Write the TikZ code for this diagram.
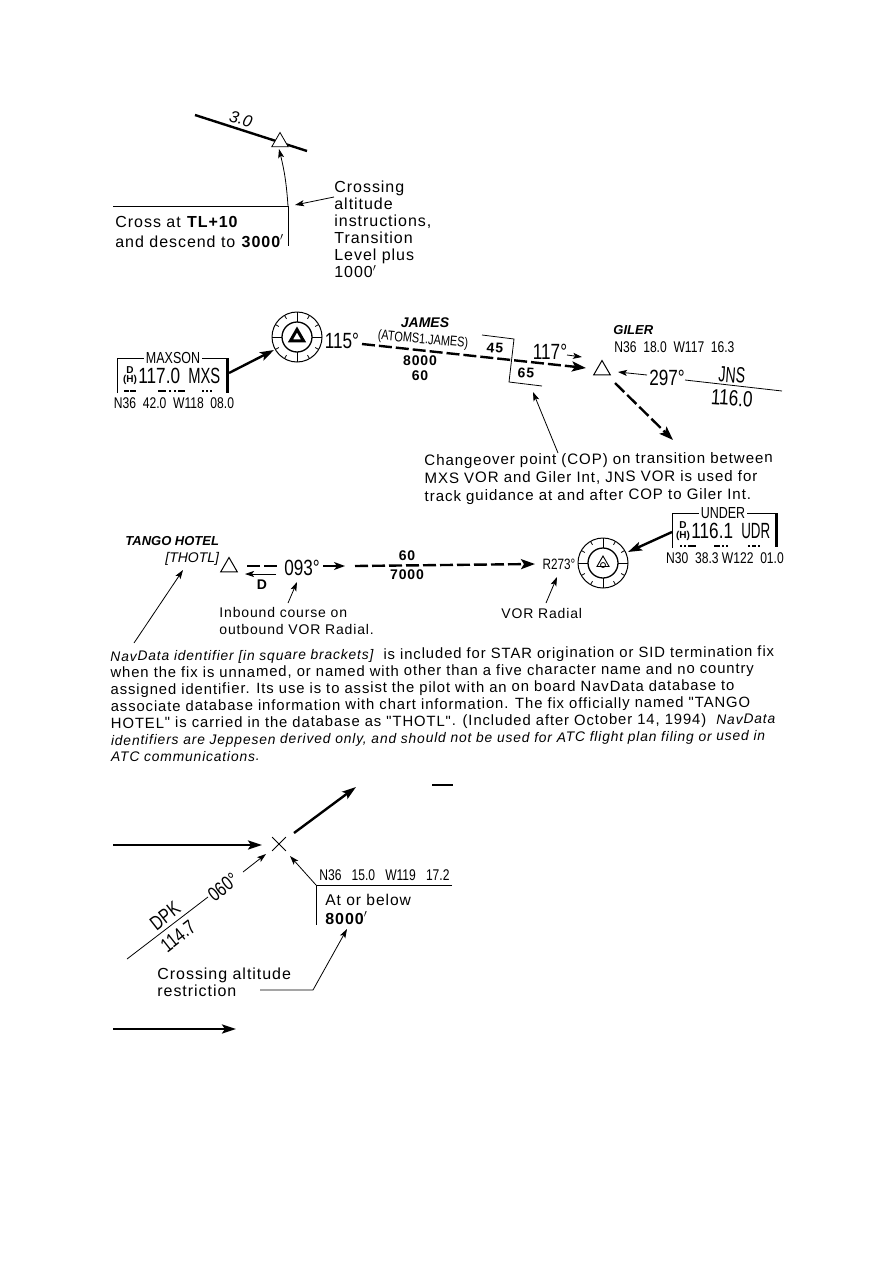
\documentclass[tikz,border=0pt]{standalone}
\usepackage{fontspec}
\setmainfont{Liberation Sans}
\newfontfamily\notefont[LetterSpace=6]{Liberation Sans}
\newfontfamily\narrowfont[FakeStretch=0.78]{Liberation Sans}
\newcommand{\navital}[1]{{\fontsize{13.85}{16.8}\selectfont\itshape #1}}
\usetikzlibrary{positioning,calc,arrows.meta,shapes.geometric,shapes.misc}
\tikzset{>={Stealth[length=9pt,width=6pt,inset=2pt]}}
\tikzstyle{note} = [inner sep=0pt, anchor=west, align=left, font=\notefont\fontsize{14}{17}\selectfont]
\tikzstyle{bignote} = [note, font=\notefont\fontsize{16}{17}\selectfont]
\tikzstyle{chart} = [inner sep=0pt, font=\narrowfont\fontsize{22}{24}\selectfont]
\tikzstyle{slant} = [inner sep=0pt, rotate=38, font=\narrowfont\fontsize{20}{22}\selectfont]
\tikzstyle{coords} = [inner sep=0pt, font=\narrowfont\fontsize{15.5}{17}\selectfont]
\tikzstyle{fix} = [inner sep=0pt, font=\bfseries\itshape\fontsize{13}{16}\selectfont]
\tikzstyle{alt} = [inner sep=0pt, font=\notefont\bfseries\fontsize{14}{15}\selectfont]
\tikzstyle{tiny} = [inner sep=0pt, font=\bfseries\fontsize{10}{10}\selectfont]
\tikzstyle{wpt} = [regular polygon, regular polygon sides=3, draw, fill=white, inner sep=0pt, minimum size=19pt]
\tikzstyle{track} = [line width=2.4pt, dash pattern=on 13pt off 4pt, -{Stealth[length=14pt,width=10pt,inset=3pt]}]
\tikzstyle{heavy} = [line width=2.4pt, -{Stealth[length=14pt,width=9pt,inset=3pt]}]
\newcommand{\vorrose}[2]{%
  \draw[line width=1pt] (#1) circle (25);
  \draw[line width=1.3pt] (#1) circle (15);
  \foreach \a in {0,90,180,270} \draw[line width=1pt] ($(#1)+(\a:15)$) -- ($(#1)+(\a:25)$);
  \foreach \a in {30,60,120,150,210,240,300,330} \draw ($(#1)+(\a:21)$) -- ($(#1)+(\a:25)$);
  \node[#2] at (#1) {};
}
\begin{document}
\begin{tikzpicture}[x=1pt,y=-1pt,line width=0.8pt]
  \useasboundingbox (0,0) rectangle (893,1263);
  % crossing altitude
  \coordinate (tlA) at (195,115); \coordinate (tlB) at (307,151);
  \coordinate (cxA) at (113,206); \coordinate (cxB) at (288,206); \coordinate (cxC) at (288,246);
  \draw[line width=2.4pt] (tlA) -- (tlB);
  \node [wpt] (w1) at (280,142) {};
  \node [inner sep=0pt,font=\itshape\fontsize{16.5}{17}\selectfont,rotate=-15] (glide) at (241,119) {3.0};
  \coordinate (cxT) at (279,149);
  \path[->] (cxB) edge[bend right=5] (cxT);
  \draw (cxA) -- (cxB) -- (cxC);
  \node [bignote] (cross1) at (115,222) {Cross at \textbf{TL+10}};
  \node [bignote] (cross2) at (115,241) {and descend to \textbf{3000$'$}};
  \node [bignote,anchor=north west] (tlnote) at (334,181) {Crossing\\altitude\\instructions,\\Transition\\Level plus\\1000$'$};
  \coordinate (tlP) at (334,197); \coordinate (tlQ) at (295,205);
  \path[->] (tlP) edge (tlQ);

  % transition
  \coordinate (v1) at (297,337);
  \vorrose{v1}{regular polygon, regular polygon sides=3, draw=black, fill=white, line width=3pt, inner sep=0pt, minimum size=15pt}
  \coordinate (mxA) at (117,393); \coordinate (mxB) at (117,358); \coordinate (mxC) at (227,358); \coordinate (mxD) at (227,393);
  \draw (mxA) -- (mxB) -- (mxC);
  \draw[line width=3pt] (mxC) -- (mxD);
  \node [coords,fill=white,inner xsep=2pt,font=\narrowfont\fontsize{16}{18}\selectfont] (mxn) at (173,358) {MAXSON};
  \node [tiny] (mxd) at (130,370) {D};
  \node [tiny] (mxh) at (130,380) {(H)};
  \node [chart,anchor=west] (mxf) at (138,376) {117.0};
  \node [chart,anchor=west,xscale=0.86,transform shape] (mxi) at (188,376) {MXS};
  \node [coords] (mxc) at (174,403) {N36\ \ 42.0\ \ W118\ \ 08.0};
  \coordinate (mxS) at (229,373); \coordinate (mxT) at (274,350);
  \path[heavy] (mxS) edge (mxT);
  \foreach \x/\w in {124/5,130/6,158/8,169/2,174/2,178/7,202/2,206/2,210/2} \draw[line width=1.4pt] (\x,391) -- ++(\w,0);
  \node [chart] (r115) at (342,341) {115°};
  \coordinate (jmA) at (362,344); \coordinate (jmB) at (586,368);
  \path[track] (jmA) edge (jmB);
  \node [fix,font=\bfseries\itshape\fontsize{14}{16}\selectfont] (james) at (425,323) {JAMES};
  \node [coords,font=\narrowfont\fontsize{14}{16}\selectfont,rotate=-5] (atoms) at (423,340) {(ATOMS1.JAMES)};
  \node [alt] (a8000) at (420,361) {8000};
  \node [alt] (a60) at (420,376) {60};
  \coordinate (copA) at (482,335); \coordinate (copB) at (514,339); \coordinate (copC) at (509,382); \coordinate (copD) at (542,386);
  \draw (copA) -- (copB) -- (copC) -- (copD);
  \node [alt,rotate=-4] (a45) at (495,348) {45};
  \node [alt,rotate=-4] (a65) at (526,373) {65};
  \node [chart] (r117) at (550,352) {117°};
  \coordinate (r117A) at (567,355); \coordinate (r117B) at (582,357);
  \path[->] (r117A) edge (r117B);
  \node [wpt,fill=none,line width=1pt] (giler) at (602,370) {};
  \node [fix,anchor=west] (gilern) at (613,330) {GILER};
  \node [coords,anchor=west] (gilerc) at (614,347) {N36\ \ 18.0\ \ W117\ \ 16.3};
  \coordinate (jnA) at (647,375); \coordinate (jnB) at (618,372);
  \path[->] (jnA) edge (jnB);
  \node [chart] (r297) at (667,378) {297°};
  \coordinate (jnC) at (685,380); \coordinate (jnD) at (782,391);
  \draw (jnC) -- (jnD);
  \node [chart,rotate=-4,xscale=0.82,transform shape] (jns) at (732,375) {JNS};
  \node [chart,rotate=-4] (jnf) at (732,398) {116.0};
  \coordinate (gtA) at (615,383); \coordinate (gtB) at (673,440);
  \path[track] (gtA) edge (gtB);
  \node [note,anchor=north west,rotate=0.4,font=\notefont\fontsize{15.1}{18}\selectfont] (copnote) at (424,454) {Changeover point (COP) on transition between\\MXS VOR and Giler Int, JNS VOR is used for\\track guidance at and after COP to Giler Int.};
  \coordinate (copP) at (558,453); \coordinate (copQ) at (533,392);
  \path[->] (copP) edge (copQ);

  % radial
  \node [fix,anchor=west] (tango) at (125,541) {TANGO HOTEL};
  \node [anchor=west,inner sep=0pt,font=\itshape\fontsize{14}{16}\selectfont] (thotl) at (165,559) {[THOTL]};
  \node [wpt,fill=none,line width=1pt] (w2) at (229,567) {};
  \coordinate (raA) at (247,566); \coordinate (raB) at (280,566);
  \draw[line width=2.4pt, dash pattern=on 13pt off 4pt] (raA) -- (raB);
  \node [chart] (r093) at (302,568) {093°};
  \coordinate (raC) at (323,566); \coordinate (raD) at (345,566);
  \path[line width=1.4pt,-{Stealth[length=11pt,width=8pt,inset=3pt]}] (raC) edge (raD);
  \coordinate (raE) at (355,566); \coordinate (raF) at (535,564);
  \path[track] (raE) edge (raF);
  \node [alt] (b60) at (407,556) {60};
  \node [alt] (b7000) at (407,575) {7000};
  \coordinate (dA) at (276,574); \coordinate (dB) at (245,574);
  \path[->] (dA) edge (dB);
  \node [alt] (dn) at (262,585) {D};
  \coordinate (inP) at (288,603); \coordinate (inQ) at (297,582);
  \path[->] (inP) edge (inQ);
  \node [note,anchor=north west] (innote) at (219,607) {Inbound course on\\outbound VOR Radial.};
  \coordinate (thP) at (134,643); \coordinate (thQ) at (183,570);
  \path[->] (thP) edge (thQ);
  \node [coords,font=\narrowfont\fontsize{15}{17}\selectfont] (r273) at (559,564) {R273°};
  \coordinate (v2) at (603,563);
  \vorrose{v2}{regular polygon, regular polygon sides=3, draw=black, line width=0.9pt, inner sep=0pt, minimum size=14pt}
  \node [circle,draw,inner sep=0pt,minimum size=5pt] (v2c) at (603,565) {};
  \coordinate (vrP) at (546,603); \coordinate (vrQ) at (557,577);
  \path[->] (vrP) edge (vrQ);
  \node [note] (vrnote) at (501,613) {VOR Radial};
  \coordinate (udA) at (672,548); \coordinate (udB) at (672,513); \coordinate (udC) at (776,513); \coordinate (udD) at (776,547);
  \draw (udA) -- (udB) -- (udC);
  \draw[line width=3pt] (udC) -- (udD);
  \node [coords,fill=white,inner xsep=2pt,font=\narrowfont\fontsize{16}{18}\selectfont] (udn) at (723,513) {UNDER};
  \node [tiny] (udd) at (683,525) {D};
  \node [tiny] (udh) at (683,536) {(H)};
  \node [chart,anchor=west] (udf) at (691,531) {116.1};
  \node [chart,anchor=west,xscale=0.78,transform shape] (udi) at (741,531) {UDR};
  \node [coords] (udc) at (725,558) {N30\ \ 38.3\ W122\ \ 01.0};
  \foreach \x/\w in {680/2,684/2,688/8,714/6,722/2,726/2,748/2,752/4,758/2} \draw[line width=1.4pt] (\x,546) -- ++(\w,0);
  \coordinate (udS) at (672,532); \coordinate (udT) at (628,552);
  \path[heavy] (udS) edge (udT);

  % paragraph
  \node [note,anchor=north west,rotate=0.4,font=\notefont\fontsize{14.85}{16.8}\selectfont] (para) at (110,650) {\navital{NavData identifier [in square brackets]}\ \ is included for STAR origination or SID termination fix\\when the fix is unnamed, or named with other than a five character name and no country\\assigned identifier. Its use is to assist the pilot with an on board NavData database to\\associate database information with chart information. The fix officially named "TANGO\\HOTEL" is carried in the database as "THOTL". (Included after October 14, 1994)\ \ \navital{NavData}\\\navital{identifiers are Jeppesen derived only, and should not be used for ATC flight plan filing or used in}\\\navital{ATC communications.}};

  % restriction
  \coordinate (inA) at (113,845); \coordinate (inB) at (262,845);
  \path[heavy] (inA) edge (inB);
  \node [cross out,draw,inner sep=0pt,minimum size=13pt] (xfix) at (279,844) {};
  \coordinate (outA) at (294,833); \coordinate (outB) at (356,787);
  \path[heavy] (outA) edge (outB);
  \coordinate (topA) at (432,785); \coordinate (topB) at (453,785);
  \draw[line width=1.5pt] (topA) -- (topB);
  \coordinate (dpA) at (127,959); \coordinate (dpB) at (208,897);
  \draw (dpA) -- (dpB);
  \node [slant] (r060) at (223,887) {060°};
  \node [slant] (dpk) at (165,916) {DPK};
  \node [slant] (dpf) at (178,936) {114.7};
  \coordinate (dpC) at (243,872); \coordinate (dpD) at (266,854);
  \path[->] (dpC) edge (dpD);
  \coordinate (rsA) at (316,885); \coordinate (rsB) at (290,856); \coordinate (rsC) at (452,885); \coordinate (rsD) at (316,925);
  \path[->] (rsA) edge (rsB);
  \draw (rsC) -- (rsA) -- (rsD);
  \node [coords,anchor=west] (rsc) at (319,875) {N36\ \ \ 15.0\ \ \ W119\ \ \ 17.2};
  \node [note,font=\notefont\fontsize{15.6}{17}\selectfont] (rsn) at (325,900) {At or below};
  \node [note,font=\notefont\bfseries\fontsize{16}{17}\selectfont] (rsv) at (325,918) {8000$'$};
  \node [bignote,anchor=north west] (caltn) at (157,967) {Crossing altitude\\restriction};
  \coordinate (caA) at (260,990); \coordinate (caB) at (313,990); \coordinate (caC) at (347,929);
  \draw[->] (caA) -- (caB) -- (caC);
  \coordinate (lgA) at (113,1029); \coordinate (lgB) at (236,1029);
  \path[heavy] (lgA) edge (lgB);
\end{tikzpicture}
\end{document}
